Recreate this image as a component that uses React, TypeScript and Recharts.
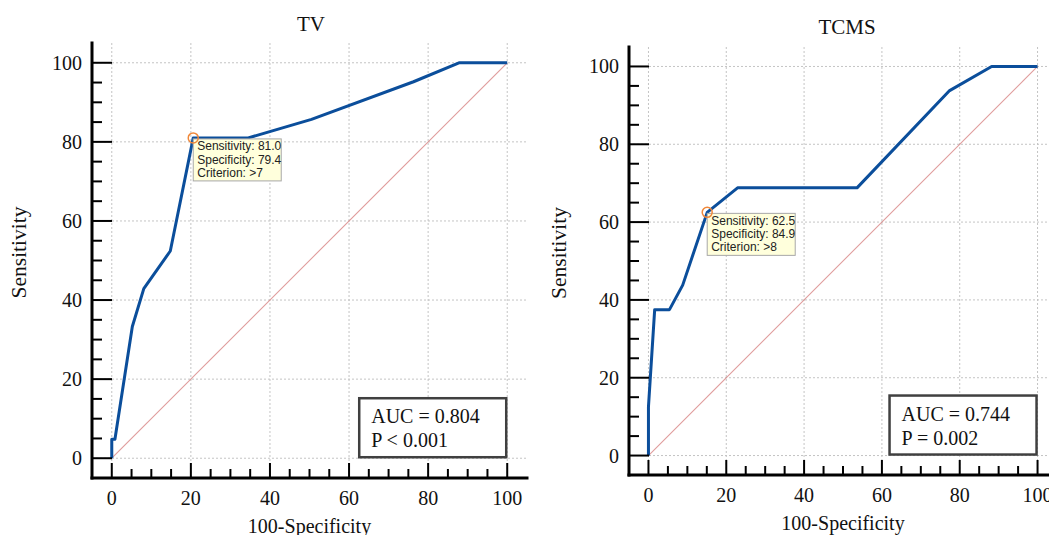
import { CartesianGrid, ComposedChart, Line, ReferenceDot, XAxis, YAxis } from "recharts";

// ROC curves: 100-Specificity (x) and Sensitivity (y)
const tvFpr = [0, 0, 0.8, 5.2, 8.1, 14.8, 20.6, 34.5, 50.5, 76.3, 87.8, 100];
const tvSens = [0, 4.8, 4.8, 33.3, 42.9, 52.4, 81.0, 81.0, 85.7, 95.2, 100, 100];
const tcmsFpr = [0, 0, 1.6, 5.4, 8.8, 15.1, 22.9, 53.6, 77.4, 88.2, 100];
const tcmsSens = [0, 12.5, 37.5, 37.5, 43.8, 62.5, 68.8, 68.8, 93.8, 100, 100];

// chance line
const diagFpr = [0, 100];
const diagSens = [0, 100];

// best cut-off points and their notes
const tvBest = [20.6, 81.0];
const tvBestNote = ["Sensitivity: 81.0", "Specificity: 79.4", "Criterion: >7"];
const tcmsBest = [15.1, 62.5];
const tcmsBestNote = ["Sensitivity: 62.5", "Specificity: 84.9", "Criterion: >8"];

const tvStats = ["AUC = 0.804", "P < 0.001"];
const tcmsStats = ["AUC = 0.744", "P = 0.002"];

const axisTicks = [0, 5, 10, 15, 20, 25, 30, 35, 40, 45, 50, 55, 60, 65, 70, 75, 80, 85, 90, 95, 100];
const gridValues = [0, 20, 40, 60, 80, 100];
const statsCorner = [100, 0];

const SERIF = '"Liberation Serif", "Times New Roman", serif';
const SANS = '"Liberation Sans", Arial, sans-serif';
const CURVE = "#0b4e9b";

const toPoints = (xs: number[], ys: number[]) => xs.map((x, i) => ({ x, y: ys[i] }));

function YTick({ x, y, payload }: any) {
  const v = payload.value;
  const major = v % 20 === 0;
  const ax = x + 10;
  return (
    <g>
      <line x1={ax} x2={ax + (major ? 20 : 10)} y1={y} y2={y} stroke="#000" strokeWidth={2} />
      {major && (
        <text x={x} y={y + 7} textAnchor="end" fontFamily={SERIF} fontSize={20} fill="#111">
          {v}
        </text>
      )}
    </g>
  );
}

function XTick({ x, y, payload }: any) {
  const v = payload.value;
  const major = v % 20 === 0;
  const ay = y - 12;
  return (
    <g>
      <line x1={x} x2={x} y1={ay} y2={ay - (major ? 15 : 9)} stroke="#000" strokeWidth={2} />
      {major && (
        <text x={x} y={ay + 27} textAnchor="middle" fontFamily={SERIF} fontSize={20} fill="#111">
          {v}
        </text>
      )}
    </g>
  );
}

function BestNote({ cx, cy, lines }: any) {
  return (
    <g>
      <rect x={cx} y={cy + 1} width={88} height={42} fill="#ffffdc" stroke="#a8a8a8" strokeWidth={1} />
      {lines.map((t: string, i: number) => (
        <text key={t} x={cx + 4} y={cy + 12.5 + i * 13.3} fontFamily={SANS} fontSize={12} fill="#222">
          {t}
        </text>
      ))}
      <circle cx={cx} cy={cy} r={5} fill="none" stroke="#f0883a" strokeWidth={1.5} />
    </g>
  );
}

function StatsBox({ cx, cy, lines }: any) {
  return (
    <g>
      <rect x={cx - 148} y={cy - 60} width={147} height={59} fill="#fff" stroke="#404040" strokeWidth={2.5} />
      {lines.map((t: string, i: number) => (
        <text key={t} x={cx - 136} y={cy - 35 + i * 24} fontFamily={SERIF} fontSize={20} fill="#111">
          {t}
        </text>
      ))}
    </g>
  );
}

interface PanelProps {
  title: string;
  fpr: number[];
  sens: number[];
  best: number[];
  bestNote: string[];
  stats: string[];
  left: number;
  yAxisWidth: number;
  marginTop: number;
  marginRight: number;
  xAxisHeight: number;
  titleX: number;
  titleTop: number;
}

function RocPanel(p: PanelProps) {
  const curve = toPoints(p.fpr, p.sens);
  const diag = toPoints(diagFpr, diagSens);
  return (
    <div style={{ position: "absolute", left: p.left, top: 0 }}>
      <div
        style={{
          position: "absolute",
          left: p.titleX - 100,
          top: p.titleTop,
          width: 200,
          textAlign: "center",
          fontFamily: SERIF,
          fontSize: 21,
          lineHeight: "21px",
          color: "#111",
        }}
      >
        {p.title}
      </div>
      <ComposedChart
        width={540}
        height={535}
        margin={{ top: p.marginTop, right: p.marginRight, left: 0, bottom: 0 }}
      >
        <CartesianGrid
          stroke="#c4c4c4"
          strokeDasharray="2 2"
          horizontalValues={gridValues}
          verticalValues={gridValues}
        />
        <XAxis
          type="number"
          dataKey="x"
          domain={[-5, 105]}
          allowDataOverflow
          ticks={axisTicks}
          interval={0}
          tickSize={0}
          tickMargin={12}
          tickLine={false}
          tick={<XTick />}
          height={p.xAxisHeight}
          axisLine={{ stroke: "#000", strokeWidth: 3, strokeLinecap: "square" }}
          label={{
            content: ({ viewBox }: any) => (
              <text
                x={viewBox.x + viewBox.width / 2}
                y={viewBox.y + 55}
                textAnchor="middle"
                fontFamily={SERIF}
                fontSize={20}
                fill="#111"
              >
                100-Specificity
              </text>
            ),
          }}
        />
        <YAxis
          type="number"
          dataKey="y"
          domain={[-5, 105]}
          allowDataOverflow
          ticks={axisTicks}
          interval={0}
          tickSize={0}
          tickMargin={10}
          tickLine={false}
          tick={<YTick />}
          width={p.yAxisWidth}
          axisLine={{ stroke: "#000", strokeWidth: 3, strokeLinecap: "square" }}
          label={{
            content: ({ viewBox }: any) => {
              const cx = viewBox.x + 19;
              const cy = viewBox.y + viewBox.height / 2 - 8;
              return (
                <text
                  x={cx}
                  y={cy}
                  transform={`rotate(-90, ${cx}, ${cy})`}
                  textAnchor="middle"
                  dominantBaseline="central"
                  fontFamily={SERIF}
                  fontSize={21.5}
                  fill="#111"
                >
                  Sensitivity
                </text>
              );
            },
          }}
        />
        <Line
          data={diag}
          dataKey="y"
          type="linear"
          stroke="#d98a8a"
          strokeWidth={1.1}
          strokeOpacity={0.85}
          dot={false}
          activeDot={false}
          isAnimationActive={false}
        />
        <Line
          data={curve}
          dataKey="y"
          type="linear"
          stroke={CURVE}
          strokeWidth={3}
          strokeLinejoin="round"
          dot={false}
          activeDot={false}
          isAnimationActive={false}
        />
        <ReferenceDot
          x={statsCorner[0]}
          y={statsCorner[1]}
          shape={(s: any) => <StatsBox cx={s.cx} cy={s.cy} lines={p.stats} />}
        />
        <ReferenceDot
          x={p.best[0]}
          y={p.best[1]}
          shape={(s: any) => <BestNote cx={s.cx} cy={s.cy} lines={p.bestNote} />}
        />
      </ComposedChart>
    </div>
  );
}

export default function App() {
  return (
    <div
      style={{
        position: "absolute",
        left: 0,
        top: 0,
        width: 1049,
        height: 535,
        overflow: "hidden",
        background: "#fff",
      }}
    >
      <RocPanel
        title="TV"
        fpr={tvFpr}
        sens={tvSens}
        best={tvBest}
        bestNote={tvBestNote}
        stats={tvStats}
        left={0}
        yAxisWidth={92}
        marginTop={43}
        marginRight={13}
        xAxisHeight={57}
        titleX={311}
        titleTop={14}
      />
      <RocPanel
        title="TCMS"
        fpr={tcmsFpr}
        sens={tcmsSens}
        best={tcmsBest}
        bestNote={tcmsBestNote}
        stats={tcmsStats}
        left={540}
        yAxisWidth={89}
        marginTop={47}
        marginRight={23}
        xAxisHeight={60}
        titleX={307}
        titleTop={17}
      />
    </div>
  );
}
